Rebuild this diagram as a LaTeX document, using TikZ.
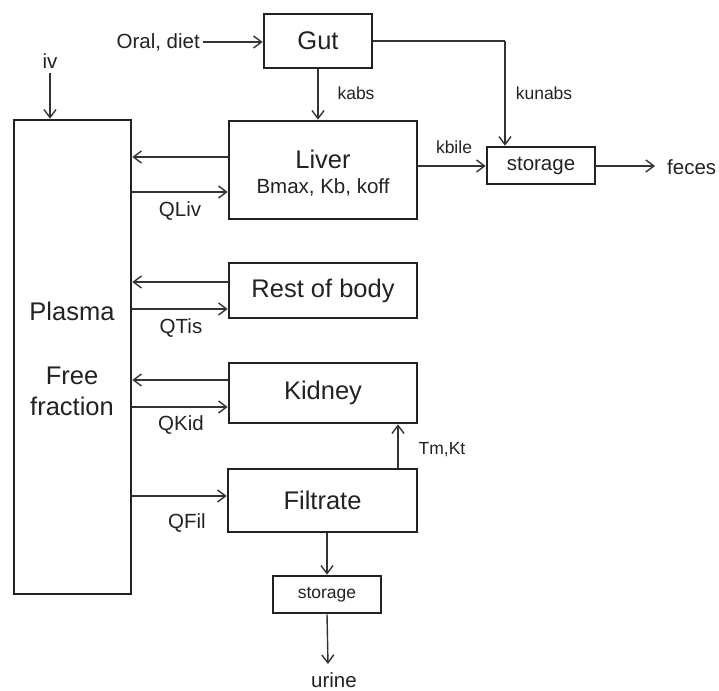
\documentclass[tikz,border=0pt]{standalone}
\usepackage{fontspec}
\setmainfont{Liberation Sans}
\usetikzlibrary{arrows.meta}
\definecolor{ink}{HTML}{222222}
\definecolor{wire}{HTML}{333333}
\tikzset{
  box/.style={draw=ink, line width=2.6bp, inner sep=0pt, text=ink},
  big/.style={font=\fontsize{25.5bp}{28bp}\selectfont, text=ink, inner sep=0pt},
  mid/.style={font=\fontsize{20.5bp}{23bp}\selectfont, text=ink, inner sep=0pt},
  sml/.style={font=\fontsize{17.5bp}{20bp}\selectfont, text=ink, inner sep=0pt},
  flow/.style={draw=wire, line width=1.4bp, -{Straight Barb[length=8bp,width=12bp,line width=1.4bp]}},
  line/.style={draw=wire, line width=1.4bp}
}
\begin{document}
\begin{tikzpicture}[x=1bp,y=-1bp]
\useasboundingbox (0,0) rectangle (719,691);
% boxes
\node[box, minimum width=117bp, minimum height=474bp] (plasma) at (72.5,357) {};
\node[big] (tplasma) at (72,311) {Plasma};
\node[big] (tfree) at (72,376) {Free};
\node[big] (tfrac) at (72,406) {fraction};
\node[box, big, minimum width=108bp, minimum height=54bp] (gut) at (318,41) {Gut};
\node[box, minimum width=188bp, minimum height=98bp] (liver) at (323,170) {};
\node[big] (tliver) at (323,159) {Liver};
\node[mid] (tbmax) at (323,187) {Bmax, Kb, koff};
\node[box, mid, minimum width=108bp, minimum height=37bp] (stor1) at (541,165.5) {storage};
\node[box, big, minimum width=188bp, minimum height=55bp] (rest) at (323,290.5) {Rest of body};
\node[box, big, minimum width=188bp, minimum height=60bp] (kidney) at (323,393) {Kidney};
\node[box, big, minimum width=189bp, minimum height=63bp] (filt) at (322.5,500.5) {Filtrate};
\node[box, sml, minimum width=108bp, minimum height=37bp] (stor2) at (327,594.5) {storage};
% free texts
\node[mid, anchor=east] (oral) at (200,42) {Oral, diet};
\node[mid] (iv) at (50,61) {iv};
\node[sml] (kabs) at (356,93) {kabs};
\node[sml] (kunabs) at (544,93) {kunabs};
\node[sml] (kbile) at (454,147) {kbile};
\node[mid, anchor=west] (feces) at (667,167) {feces};
\node[mid] (qliv) at (180,211) {QLiv};
\node[mid] (qtis) at (181,328) {QTis};
\node[mid] (qkid) at (181,425) {QKid};
\node[mid] (qfil) at (187,523) {QFil};
\node[sml] (tmkt) at (442,450) {Tm,Kt};
\node[mid] (urine) at (334,680) {urine};
\coordinate (kin) at (505,41);
\coordinate (uend) at (328,664);
% connectors
\draw[flow] ([xshift=3bp]oral.east) -- (gut.west |- 0,42);
\draw[flow] ([yshift=-4bp]iv.south) -- (iv.south |- plasma.north);
\draw[flow] (gut.south) -- (gut.south |- liver.north);
\draw[line] (gut.east |- kin) -- (kin);
\draw[flow] (kin) -- (kin |- stor1.north);
\draw[flow] (liver.east |- 0,166) -- (stor1.west |- 0,166);
\draw[flow, shorten >=12bp] (stor1.east |- 0,166) -- (feces.west |- 0,166);
\draw[flow] (liver.west |- 0,157) -- (plasma.east |- 0,157);
\draw[flow] (plasma.east |- 0,192) -- (liver.west |- 0,192);
\draw[flow] (rest.west |- 0,282) -- (plasma.east |- 0,282);
\draw[flow] (plasma.east |- 0,309) -- (rest.west |- 0,309);
\draw[flow] (kidney.west |- 0,380) -- (plasma.east |- 0,380);
\draw[flow] (plasma.east |- 0,407) -- (kidney.west |- 0,407);
\draw[flow] (plasma.east |- 0,496) -- (filt.west |- 0,496);
\draw[flow] (filt.north -| 398,0) -- (kidney.south -| 398,0);
\draw[flow] (stor2.north |- filt.south) -- (stor2.north);
\draw[flow] (stor2.south) -- (uend);
\end{tikzpicture}
\end{document}
